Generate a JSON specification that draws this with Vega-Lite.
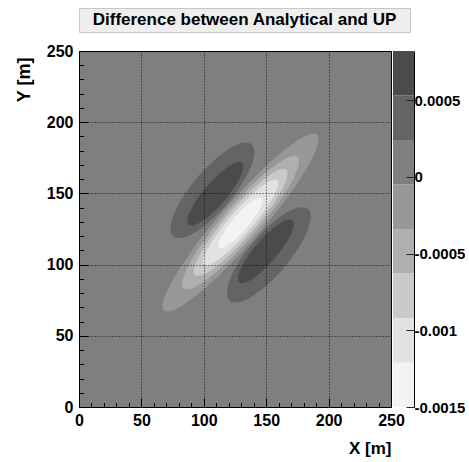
{
 "$schema": "https://vega.github.io/schema/vega-lite/v6.json",
 "padding": {"left": 14, "top": 7, "right": 0, "bottom": 0},
 "bounds": "flush",
 "spacing": 19,
 "config": {"font": "Liberation Sans", "view": {"stroke": null}, "background": "white"},
 "datasets": {
  "contours": [
   {"id":"E4","ord":1,"band":"b4","x":67.0,"lo":70.89,"hi":70.89},
   {"id":"E4","ord":1,"band":"b4","x":67.31,"lo":69.01,"hi":73.35},
   {"id":"E4","ord":1,"band":"b4","x":68.25,"lo":67.74,"hi":76.38},
   {"id":"E4","ord":1,"band":"b4","x":70.75,"lo":67.0,"hi":81.82},
   {"id":"E4","ord":1,"band":"b4","x":75.12,"lo":67.8,"hi":89.22},
   {"id":"E4","ord":1,"band":"b4","x":82.62,"lo":71.18,"hi":99.9},
   {"id":"E4","ord":1,"band":"b4","x":95.12,"lo":79.12,"hi":115.4},
   {"id":"E4","ord":1,"band":"b4","x":110.75,"lo":91.2,"hi":132.64},
   {"id":"E4","ord":1,"band":"b4","x":129.5,"lo":107.78,"hi":151.22},
   {"id":"E4","ord":1,"band":"b4","x":148.25,"lo":126.36,"hi":167.8},
   {"id":"E4","ord":1,"band":"b4","x":163.88,"lo":143.6,"hi":179.88},
   {"id":"E4","ord":1,"band":"b4","x":176.38,"lo":159.1,"hi":187.82},
   {"id":"E4","ord":1,"band":"b4","x":183.88,"lo":169.78,"hi":191.2},
   {"id":"E4","ord":1,"band":"b4","x":188.25,"lo":177.18,"hi":192.0},
   {"id":"E4","ord":1,"band":"b4","x":190.75,"lo":182.62,"hi":191.26},
   {"id":"E4","ord":1,"band":"b4","x":191.69,"lo":185.65,"hi":189.99},
   {"id":"E4","ord":1,"band":"b4","x":192.0,"lo":188.11,"hi":188.11},

   {"id":"E5","ord":2,"band":"b5","x":82.6,"lo":86.31,"hi":86.31},
   {"id":"E5","ord":2,"band":"b5","x":82.83,"lo":84.7,"hi":88.36},
   {"id":"E5","ord":2,"band":"b5","x":83.54,"lo":83.53,"hi":90.81},
   {"id":"E5","ord":2,"band":"b5","x":85.41,"lo":82.66,"hi":95.14},
   {"id":"E5","ord":2,"band":"b5","x":88.7,"lo":82.9,"hi":100.94},
   {"id":"E5","ord":2,"band":"b5","x":94.32,"lo":85.02,"hi":109.2},
   {"id":"E5","ord":2,"band":"b5","x":103.7,"lo":90.48,"hi":121.02},
   {"id":"E5","ord":2,"band":"b5","x":115.43,"lo":99.09,"hi":133.99},
   {"id":"E5","ord":2,"band":"b5","x":129.5,"lo":111.21,"hi":147.79},
   {"id":"E5","ord":2,"band":"b5","x":143.57,"lo":125.01,"hi":159.91},
   {"id":"E5","ord":2,"band":"b5","x":155.3,"lo":137.98,"hi":168.52},
   {"id":"E5","ord":2,"band":"b5","x":164.68,"lo":149.8,"hi":173.98},
   {"id":"E5","ord":2,"band":"b5","x":170.3,"lo":158.06,"hi":176.1},
   {"id":"E5","ord":2,"band":"b5","x":173.59,"lo":163.86,"hi":176.34},
   {"id":"E5","ord":2,"band":"b5","x":175.46,"lo":168.19,"hi":175.47},
   {"id":"E5","ord":2,"band":"b5","x":176.17,"lo":170.64,"hi":174.3},
   {"id":"E5","ord":2,"band":"b5","x":176.4,"lo":172.69,"hi":172.69},

   {"id":"E6","ord":3,"band":"b6","x":91.92,"lo":95.14,"hi":95.14},
   {"id":"E6","ord":3,"band":"b6","x":92.11,"lo":93.79,"hi":96.83},
   {"id":"E6","ord":3,"band":"b6","x":92.67,"lo":92.8,"hi":98.86},
   {"id":"E6","ord":3,"band":"b6","x":94.17,"lo":92.01,"hi":102.39},
   {"id":"E6","ord":3,"band":"b6","x":96.81,"lo":92.11,"hi":107.11},
   {"id":"E6","ord":3,"band":"b6","x":101.31,"lo":93.67,"hi":113.79},
   {"id":"E6","ord":3,"band":"b6","x":108.83,"lo":97.89,"hi":123.31},
   {"id":"E6","ord":3,"band":"b6","x":118.23,"lo":104.67,"hi":133.71},
   {"id":"E6","ord":3,"band":"b6","x":129.5,"lo":114.28,"hi":144.72},
   {"id":"E6","ord":3,"band":"b6","x":140.77,"lo":125.29,"hi":154.33},
   {"id":"E6","ord":3,"band":"b6","x":150.17,"lo":135.69,"hi":161.11},
   {"id":"E6","ord":3,"band":"b6","x":157.69,"lo":145.21,"hi":165.33},
   {"id":"E6","ord":3,"band":"b6","x":162.19,"lo":151.89,"hi":166.89},
   {"id":"E6","ord":3,"band":"b6","x":164.83,"lo":156.61,"hi":166.99},
   {"id":"E6","ord":3,"band":"b6","x":166.33,"lo":160.14,"hi":166.2},
   {"id":"E6","ord":3,"band":"b6","x":166.89,"lo":162.17,"hi":165.21},
   {"id":"E6","ord":3,"band":"b6","x":167.08,"lo":163.86,"hi":163.86},

   {"id":"E7","ord":4,"band":"b7","x":99.19,"lo":101.63,"hi":101.63},
   {"id":"E7","ord":4,"band":"b7","x":99.34,"lo":100.58,"hi":102.96},
   {"id":"E7","ord":4,"band":"b7","x":99.8,"lo":99.82,"hi":104.56},
   {"id":"E7","ord":4,"band":"b7","x":101.01,"lo":99.24,"hi":107.36},
   {"id":"E7","ord":4,"band":"b7","x":103.13,"lo":99.37,"hi":111.13},
   {"id":"E7","ord":4,"band":"b7","x":106.77,"lo":100.72,"hi":116.48},
   {"id":"E7","ord":4,"band":"b7","x":112.83,"lo":104.22,"hi":124.12},
   {"id":"E7","ord":4,"band":"b7","x":120.41,"lo":109.77,"hi":132.51},
   {"id":"E7","ord":4,"band":"b7","x":129.5,"lo":117.58,"hi":141.42},
   {"id":"E7","ord":4,"band":"b7","x":138.59,"lo":126.49,"hi":149.23},
   {"id":"E7","ord":4,"band":"b7","x":146.17,"lo":134.88,"hi":154.78},
   {"id":"E7","ord":4,"band":"b7","x":152.23,"lo":142.52,"hi":158.28},
   {"id":"E7","ord":4,"band":"b7","x":155.87,"lo":147.87,"hi":159.63},
   {"id":"E7","ord":4,"band":"b7","x":157.99,"lo":151.64,"hi":159.76},
   {"id":"E7","ord":4,"band":"b7","x":159.2,"lo":154.44,"hi":159.18},
   {"id":"E7","ord":4,"band":"b7","x":159.66,"lo":156.04,"hi":158.42},
   {"id":"E7","ord":4,"band":"b7","x":159.81,"lo":157.37,"hi":157.37},

   {"id":"E8","ord":5,"band":"b8","x":111.68,"lo":113.63,"hi":113.63},
   {"id":"E8","ord":5,"band":"b8","x":111.77,"lo":112.9,"hi":114.52},
   {"id":"E8","ord":5,"band":"b8","x":112.04,"lo":112.34,"hi":115.56},
   {"id":"E8","ord":5,"band":"b8","x":112.75,"lo":111.81,"hi":117.35},
   {"id":"E8","ord":5,"band":"b8","x":114.0,"lo":111.69,"hi":119.69},
   {"id":"E8","ord":5,"band":"b8","x":116.13,"lo":112.24,"hi":122.96},
   {"id":"E8","ord":5,"band":"b8","x":119.7,"lo":114.0,"hi":127.54},
   {"id":"E8","ord":5,"band":"b8","x":124.15,"lo":117.0,"hi":132.48},
   {"id":"E8","ord":5,"band":"b8","x":129.5,"lo":121.39,"hi":137.61},
   {"id":"E8","ord":5,"band":"b8","x":134.85,"lo":126.52,"hi":142.0},
   {"id":"E8","ord":5,"band":"b8","x":139.3,"lo":131.46,"hi":145.0},
   {"id":"E8","ord":5,"band":"b8","x":142.87,"lo":136.04,"hi":146.76},
   {"id":"E8","ord":5,"band":"b8","x":145.0,"lo":139.31,"hi":147.31},
   {"id":"E8","ord":5,"band":"b8","x":146.25,"lo":141.65,"hi":147.19},
   {"id":"E8","ord":5,"band":"b8","x":146.96,"lo":143.44,"hi":146.66},
   {"id":"E8","ord":5,"band":"b8","x":147.23,"lo":144.48,"hi":146.1},
   {"id":"E8","ord":5,"band":"b8","x":147.32,"lo":145.37,"hi":145.37},

   {"id":"L2u","ord":6,"band":"b2","x":73.36,"lo":125.27,"hi":125.27},
   {"id":"L2u","ord":6,"band":"b2","x":73.53,"lo":123.39,"hi":127.41},
   {"id":"L2u","ord":6,"band":"b2","x":74.03,"lo":121.81,"hi":129.81},
   {"id":"L2u","ord":6,"band":"b2","x":75.37,"lo":120.02,"hi":133.74},
   {"id":"L2u","ord":6,"band":"b2","x":77.72,"lo":118.84,"hi":138.68},
   {"id":"L2u","ord":6,"band":"b2","x":81.74,"lo":118.68,"hi":145.28},
   {"id":"L2u","ord":6,"band":"b2","x":88.45,"lo":120.54,"hi":154.14},
   {"id":"L2u","ord":6,"band":"b2","x":96.84,"lo":124.86,"hi":163.24},
   {"id":"L2u","ord":6,"band":"b2","x":106.9,"lo":131.98,"hi":172.22},
   {"id":"L2u","ord":6,"band":"b2","x":116.96,"lo":140.96,"hi":179.34},
   {"id":"L2u","ord":6,"band":"b2","x":125.35,"lo":150.06,"hi":183.66},
   {"id":"L2u","ord":6,"band":"b2","x":132.06,"lo":158.92,"hi":185.52},
   {"id":"L2u","ord":6,"band":"b2","x":136.08,"lo":165.52,"hi":185.36},
   {"id":"L2u","ord":6,"band":"b2","x":138.43,"lo":170.46,"hi":184.18},
   {"id":"L2u","ord":6,"band":"b2","x":139.77,"lo":174.39,"hi":182.39},
   {"id":"L2u","ord":6,"band":"b2","x":140.27,"lo":176.79,"hi":180.81},
   {"id":"L2u","ord":6,"band":"b2","x":140.44,"lo":178.93,"hi":178.93},

   {"id":"L2d","ord":6,"band":"b2","x":118.56,"lo":80.07,"hi":80.07},
   {"id":"L2d","ord":6,"band":"b2","x":118.73,"lo":78.19,"hi":82.21},
   {"id":"L2d","ord":6,"band":"b2","x":119.23,"lo":76.61,"hi":84.61},
   {"id":"L2d","ord":6,"band":"b2","x":120.57,"lo":74.82,"hi":88.54},
   {"id":"L2d","ord":6,"band":"b2","x":122.92,"lo":73.64,"hi":93.48},
   {"id":"L2d","ord":6,"band":"b2","x":126.94,"lo":73.48,"hi":100.08},
   {"id":"L2d","ord":6,"band":"b2","x":133.65,"lo":75.34,"hi":108.94},
   {"id":"L2d","ord":6,"band":"b2","x":142.04,"lo":79.66,"hi":118.04},
   {"id":"L2d","ord":6,"band":"b2","x":152.1,"lo":86.78,"hi":127.02},
   {"id":"L2d","ord":6,"band":"b2","x":162.16,"lo":95.76,"hi":134.14},
   {"id":"L2d","ord":6,"band":"b2","x":170.55,"lo":104.86,"hi":138.46},
   {"id":"L2d","ord":6,"band":"b2","x":177.26,"lo":113.72,"hi":140.32},
   {"id":"L2d","ord":6,"band":"b2","x":181.28,"lo":120.32,"hi":140.16},
   {"id":"L2d","ord":6,"band":"b2","x":183.63,"lo":125.26,"hi":138.98},
   {"id":"L2d","ord":6,"band":"b2","x":184.97,"lo":129.19,"hi":137.19},
   {"id":"L2d","ord":6,"band":"b2","x":185.47,"lo":131.59,"hi":135.61},
   {"id":"L2d","ord":6,"band":"b2","x":185.64,"lo":133.73,"hi":133.73},

   {"id":"L1u","ord":7,"band":"b1","x":86.91,"lo":130.54,"hi":130.54},
   {"id":"L1u","ord":7,"band":"b1","x":87.02,"lo":129.48,"hi":131.8},
   {"id":"L1u","ord":7,"band":"b1","x":87.36,"lo":128.62,"hi":133.22},
   {"id":"L1u","ord":7,"band":"b1","x":88.25,"lo":127.74,"hi":135.64},
   {"id":"L1u","ord":7,"band":"b1","x":89.82,"lo":127.32,"hi":138.74},
   {"id":"L1u","ord":7,"band":"b1","x":92.51,"lo":127.68,"hi":142.98},
   {"id":"L1u","ord":7,"band":"b1","x":96.99,"lo":129.49,"hi":148.83},
   {"id":"L1u","ord":7,"band":"b1","x":102.58,"lo":132.9,"hi":155.0},
   {"id":"L1u","ord":7,"band":"b1","x":109.3,"lo":138.12,"hi":161.28},
   {"id":"L1u","ord":7,"band":"b1","x":116.02,"lo":144.4,"hi":166.5},
   {"id":"L1u","ord":7,"band":"b1","x":121.61,"lo":150.57,"hi":169.91},
   {"id":"L1u","ord":7,"band":"b1","x":126.09,"lo":156.42,"hi":171.72},
   {"id":"L1u","ord":7,"band":"b1","x":128.78,"lo":160.66,"hi":172.08},
   {"id":"L1u","ord":7,"band":"b1","x":130.35,"lo":163.76,"hi":171.66},
   {"id":"L1u","ord":7,"band":"b1","x":131.24,"lo":166.18,"hi":170.78},
   {"id":"L1u","ord":7,"band":"b1","x":131.58,"lo":167.6,"hi":169.92},
   {"id":"L1u","ord":7,"band":"b1","x":131.69,"lo":168.86,"hi":168.86},

   {"id":"L1d","ord":7,"band":"b1","x":127.31,"lo":90.14,"hi":90.14},
   {"id":"L1d","ord":7,"band":"b1","x":127.42,"lo":89.08,"hi":91.4},
   {"id":"L1d","ord":7,"band":"b1","x":127.76,"lo":88.22,"hi":92.82},
   {"id":"L1d","ord":7,"band":"b1","x":128.65,"lo":87.34,"hi":95.24},
   {"id":"L1d","ord":7,"band":"b1","x":130.22,"lo":86.92,"hi":98.34},
   {"id":"L1d","ord":7,"band":"b1","x":132.91,"lo":87.28,"hi":102.58},
   {"id":"L1d","ord":7,"band":"b1","x":137.39,"lo":89.09,"hi":108.43},
   {"id":"L1d","ord":7,"band":"b1","x":142.98,"lo":92.5,"hi":114.6},
   {"id":"L1d","ord":7,"band":"b1","x":149.7,"lo":97.72,"hi":120.88},
   {"id":"L1d","ord":7,"band":"b1","x":156.42,"lo":104.0,"hi":126.1},
   {"id":"L1d","ord":7,"band":"b1","x":162.01,"lo":110.17,"hi":129.51},
   {"id":"L1d","ord":7,"band":"b1","x":166.49,"lo":116.02,"hi":131.32},
   {"id":"L1d","ord":7,"band":"b1","x":169.18,"lo":120.26,"hi":131.68},
   {"id":"L1d","ord":7,"band":"b1","x":170.75,"lo":123.36,"hi":131.26},
   {"id":"L1d","ord":7,"band":"b1","x":171.64,"lo":125.78,"hi":130.38},
   {"id":"L1d","ord":7,"band":"b1","x":171.98,"lo":127.2,"hi":129.52},
   {"id":"L1d","ord":7,"band":"b1","x":172.09,"lo":128.46,"hi":128.46}
  ],
  "bar": [
   {"band":"b8","lo":-0.0015,"hi":-0.00121},
   {"band":"b7","lo":-0.00121,"hi":-0.00092},
   {"band":"b6","lo":-0.00092,"hi":-0.00063},
   {"band":"b5","lo":-0.00063,"hi":-0.00034},
   {"band":"b4","lo":-0.00034,"hi":-0.00005},
   {"band":"b3","lo":-0.00005,"hi":0.00024},
   {"band":"b2","lo":0.00024,"hi":0.00053},
   {"band":"b1","lo":0.00053,"hi":0.00082}
  ]
 },
 "vconcat": [
  {
   "width": 331,
   "height": 24,
   "view": {"fill": "#eeeeee", "stroke": "#c8c8c8"},
   "data": {"values": [{"t": "Difference between Analytical and UP"}]},
   "mark": {"type": "text", "fontSize": 17, "fontWeight": "bold", "color": "black", "baseline": "middle", "align": "center"},
   "encoding": {"text": {"field": "t"}}
  },
  {
   "hconcat": [
    {
     "width": 312,
     "height": 356,
     "view": {"fill": "#7f7f7f", "stroke": "black", "strokeWidth": 1},
     "data": {"name": "contours"},
     "encoding": {
      "x": {"field": "x", "type": "quantitative",
       "scale": {"domain": [0, 250], "nice": false, "zero": false},
       "axis": {
        "title": "X [m]", "titleFontSize": 17, "titleFontWeight": "bold", "titleColor": "black", "titleAnchor": "end", "titlePadding": 8,
        "values": [0,10,20,30,40,50,60,70,80,90,100,110,120,130,140,150,160,170,180,190,200,210,220,230,240,250],
        "labelExpr": "datum.value % 50 === 0 ? datum.label : ''",
        "labelFontSize": 16, "labelFontWeight": "bold", "labelColor": "black", "labelFlush": false, "labelOverlap": false, "labelPadding": 14,
        "tickSize": {"condition": {"test": "datum.value % 50 === 0", "value": -9}, "value": -4.5},
        "tickColor": "black", "tickWidth": 1,
        "grid": true, "gridColor": "black", "gridDash": [1, 2], "gridWidth": 1,
        "gridOpacity": {"condition": {"test": "datum.value % 50 === 0", "value": 0.85}, "value": 0},
        "domain": false, "zindex": 1
       }},
      "y": {"field": "lo", "type": "quantitative",
       "scale": {"domain": [0, 250], "nice": false, "zero": false},
       "axis": {
        "title": "Y [m]", "titleFontSize": 18, "titleFontWeight": "bold", "titleColor": "black", "titleAnchor": "end", "titleAlign": "right", "titleY": 6, "titlePadding": 13,
        "values": [0,10,20,30,40,50,60,70,80,90,100,110,120,130,140,150,160,170,180,190,200,210,220,230,240,250],
        "labelExpr": "datum.value % 50 === 0 ? datum.label : ''",
        "labelFontSize": 16, "labelFontWeight": "bold", "labelColor": "black", "labelFlush": false, "labelOverlap": false, "labelPadding": 15,
        "tickSize": {"condition": {"test": "datum.value % 50 === 0", "value": -9}, "value": -4.5},
        "tickColor": "black", "tickWidth": 1,
        "grid": true, "gridColor": "black", "gridDash": [1, 2], "gridWidth": 1,
        "gridOpacity": {"condition": {"test": "datum.value % 50 === 0", "value": 0.85}, "value": 0},
        "domain": false, "zindex": 1
       }},
      "y2": {"field": "hi"},
      "color": {"field": "band", "type": "nominal",
       "scale": {"domain": ["b1","b2","b3","b4","b5","b6","b7","b8"], "range": ["#4b4b4b","#646464","#7f7f7f","#979797","#afafaf","#c9c9c9","#e2e2e2","#f3f3f3"]},
       "legend": null},
      "detail": {"field": "id"}
     },
     "layer": [
      {"transform": [{"filter": "datum.ord === 1"}], "mark": {"type": "area", "interpolate": "monotone"}},
      {"transform": [{"filter": "datum.ord === 2"}], "mark": {"type": "area", "interpolate": "monotone"}},
      {"transform": [{"filter": "datum.ord === 3"}], "mark": {"type": "area", "interpolate": "monotone"}},
      {"transform": [{"filter": "datum.ord === 4"}], "mark": {"type": "area", "interpolate": "monotone"}},
      {"transform": [{"filter": "datum.ord === 5"}], "mark": {"type": "area", "interpolate": "monotone"}},
      {"transform": [{"filter": "datum.ord === 6"}], "mark": {"type": "area", "interpolate": "monotone"}},
      {"transform": [{"filter": "datum.ord === 7"}], "mark": {"type": "area", "interpolate": "monotone"}}
     ]
    },
    {
     "width": 21,
     "height": 356,
     "data": {"name": "bar"},
     "mark": "rect",
     "encoding": {
      "y": {"field": "lo", "type": "quantitative",
       "scale": {"domain": [-0.0015, 0.00082], "nice": false, "zero": false},
       "axis": {
        "orient": "right", "title": null,
        "values": [-0.0015, -0.001, -0.0005, 0, 0.0005],
        "labelExpr": "'' + datum.value",
        "labelFontSize": 15, "labelFontWeight": "bold", "labelColor": "black", "labelFlush": false, "labelOverlap": false, "labelPadding": 8,
        "tickSize": -8, "tickColor": "#222222",
        "domain": true, "domainColor": "black", "grid": false, "zindex": 1
       }},
      "y2": {"field": "hi"},
      "color": {"field": "band", "type": "nominal",
       "scale": {"domain": ["b1","b2","b3","b4","b5","b6","b7","b8"], "range": ["#4b4b4b","#646464","#7f7f7f","#979797","#afafaf","#c9c9c9","#e2e2e2","#f3f3f3"]},
       "legend": null}
     }
    }
   ],
   "spacing": 2,
   "bounds": "flush",
   "resolve": {"scale": {"x": "independent", "y": "independent", "color": "independent"}}
  }
 ]
}
